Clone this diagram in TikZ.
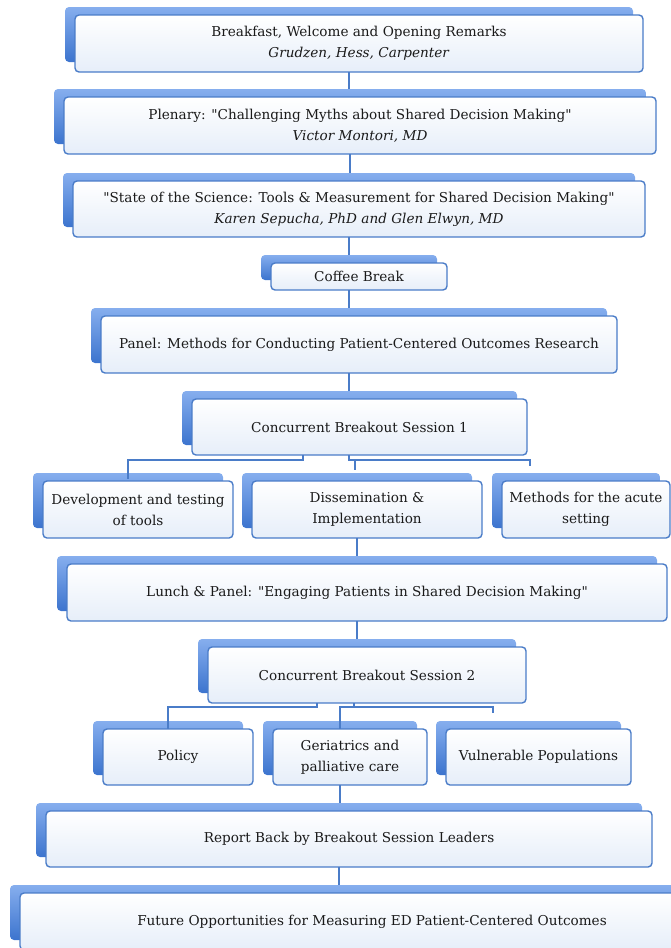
\documentclass[tikz,border=0pt]{standalone}
\usepackage{fontspec}
\newfontfamily\boxfont{DejaVu Serif}
\definecolor{lineblue}{HTML}{4A7CC8}
\definecolor{backtop}{HTML}{86AEEE}
\definecolor{backbot}{HTML}{3C74CE}
\definecolor{frontbot}{HTML}{E6EEF9}
\definecolor{txt}{HTML}{1A1A1A}
\tikzset{
  backbox/.style={rounded corners=4pt, top color=backtop, bottom color=backbot, draw=none, inner sep=0pt, outer sep=0pt},
  frontbox/.style={rounded corners=4pt, top color=white, bottom color=frontbot, draw=lineblue, line width=1.4pt, inner sep=0pt, outer sep=0pt, align=center, text=txt, font=\boxfont\fontsize{13.6}{21}\selectfont},
  conn/.style={draw=lineblue, line width=1.6pt}
}
% name, x1, y1, x2, y2, text
\newcommand\smbox[6]{%
  \node[backbox, anchor=north west, minimum width={(#4-#2)*1pt}, minimum height={(#5-#3-2)*1pt}] (#1b) at (#2-10,#3-8) {};
  \node[frontbox, anchor=north west, minimum width={(#4-#2)*1pt}, minimum height={(#5-#3)*1pt}] (#1) at (#2,#3) {#6};
}
\begin{document}
\begin{tikzpicture}[x=1pt,y=-1pt]
\useasboundingbox (0,0) rectangle (671,948);
\begin{scope}
\clip (0,0) rectangle (671,948);
\smbox{b1}{75}{15}{643}{72}{Breakfast, Welcome and Opening Remarks\\\textit{Grudzen, Hess, Carpenter}}
\smbox{b2}{64}{97}{656}{154}{Plenary: "Challenging Myths about Shared Decision Making"\\\textit{Victor Montori, MD}}
\smbox{b3}{73}{181}{645}{237}{"State of the Science: Tools \& Measurement for Shared Decision Making"\\\textit{Karen Sepucha, PhD and Glen Elwyn, MD}}
\smbox{cof}{271}{263}{447}{290}{Coffee Break}
\smbox{pan}{101}{316}{617}{373}{Panel: Methods for Conducting Patient-Centered Outcomes Research}
\smbox{cbs1}{192}{399}{527}{455}{Concurrent Breakout Session 1}
\smbox{dev}{43}{481}{233}{538}{Development and testing\\of tools}
\smbox{dis}{252}{481}{482}{538}{Dissemination \&\\Implementation}
\smbox{met}{502}{481}{670}{538}{Methods for the acute\\setting}
\smbox{lun}{67}{564}{667}{621}{Lunch \& Panel: "Engaging Patients in Shared Decision Making"}
\smbox{cbs2}{208}{647}{526}{703}{Concurrent Breakout Session 2}
\smbox{pol}{103}{729}{253}{785}{Policy}
\smbox{ger}{273}{729}{427}{785}{Geriatrics and\\palliative care}
\smbox{vul}{446}{729}{631}{785}{Vulnerable Populations}
\smbox{rep}{46}{811}{652}{867}{Report Back by Breakout Session Leaders}
\smbox{fut}{20}{893}{724}{950}{Future Opportunities for Measuring ED Patient-Centered Outcomes}
\end{scope}
% vertical connectors (straight down from the upper box)
\draw[conn] (b1b.south |- b1.south) -- (b1b.south |- b2b.north);
\draw[conn] (b2b.south |- b2.south) -- (b2b.south |- b3b.north);
\draw[conn] (b3b.south |- b3.south) -- (b3b.south |- cofb.north);
\draw[conn] (cofb.south |- cof.south) -- (cofb.south |- panb.north);
\draw[conn] (panb.south |- pan.south) -- (panb.south |- cbs1b.north);
\draw[conn] (disb.south |- dis.south) -- (disb.south |- lunb.north);
\draw[conn] (lunb.south |- lun.south) -- (lunb.south |- cbs2b.north);
\draw[conn] (gerb.south |- ger.south) -- (gerb.south |- repb.north);
\draw[conn] (repb.south |- rep.south) -- (repb.south |- futb.north);
% breakout 1 connectors
\coordinate (k1) at (303,460);
\coordinate (k2) at (349,460);
\coordinate (k3) at (355,460);
\coordinate (k4) at (530,466);
\draw[conn] (cbs1.south -| k1) -- (k1) -| ([yshift=-6pt]devb.north);
\draw[conn] (cbs1.south -| k2) -- (k2) -| (k4);
\draw[conn] (k3) -- ([yshift=3pt]disb.north -| k3);
% breakout 2 connectors
\coordinate (m1) at (317,707);
\coordinate (m2) at (354,707);
\coordinate (m3) at (493,713);
\draw[conn] (cbs2.south -| m1) -- (m1) -| ([yshift=-8pt]polb.north);
\draw[conn] (cbs2.south -| m2) -- (m2) -| ([yshift=-8pt]gerb.north);
\draw[conn] (m2) -| (m3);
\end{tikzpicture}
\end{document}
